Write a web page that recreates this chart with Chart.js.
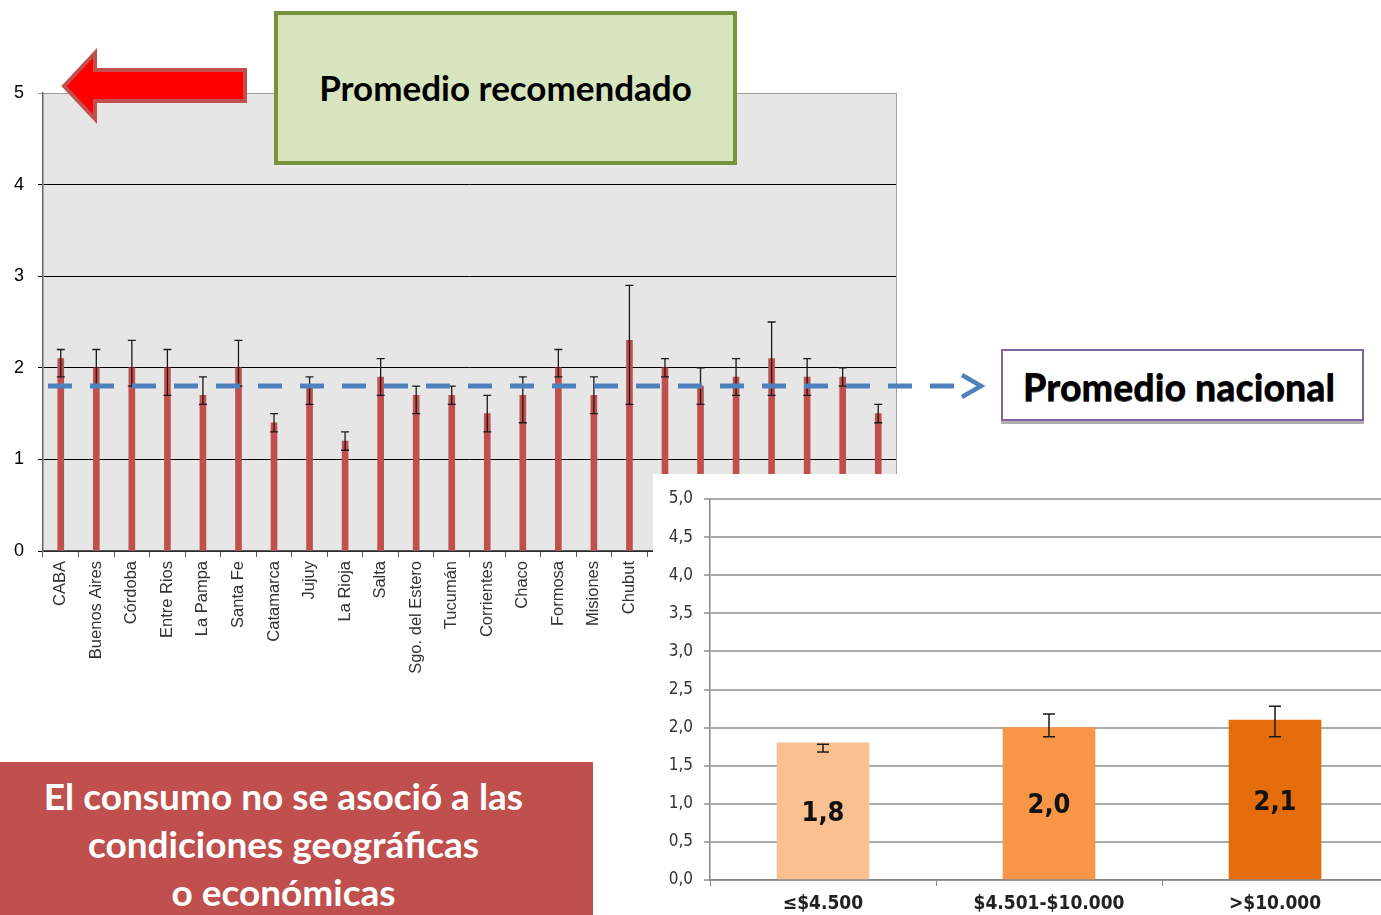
<!DOCTYPE html>
<html lang="es">
<head>
<meta charset="UTF-8">
<title>Consumo por provincia e ingreso</title>
<script src="https://cdn.jsdelivr.net/npm/chart.js"></script>
<style>
    body {
        margin: 0;
        width: 1381px;
        height: 915px;
        overflow: hidden;
        position: relative;
        background: #fff;
        font-family: 'Liberation Sans', Arial, sans-serif;
    }
    #provChart { position: absolute; left: 0; top: 0; }
    #ingresoBox {
        position: absolute; left: 653px; top: 474px;
        width: 728px; height: 441px;
        background: #fff; overflow: hidden;
    }
    #ingresoChart { position: absolute; left: 2px; top: 1px; }
    #flecha { position: absolute; left: 0; top: 0; }
    #recomendado {
        position: absolute; left: 274px; top: 11px;
        width: 455px; height: 146px;
        background: #d7e4bd; border: 4px solid #77933c;
        font-family: Lato, 'Open Sans', sans-serif; font-weight: 700;
        font-size: 35px; text-align: center; line-height: 144px;
        color: #000; white-space: nowrap;
    }
    #nacional {
        position: absolute; left: 1001px; top: 349px;
        height: 68px;
        background: #fff; border: 2px solid #8064a2;
        box-shadow: 0 3px 0 #b0b0b0;
        font-family: Lato, 'Open Sans', sans-serif; font-weight: 900;
        font-size: 37.5px; line-height: 72px; padding-left: 20px;
        box-sizing: content-box; width: 339px;
        color: #000; white-space: nowrap;
        text-shadow: 0 1px 0 #555;
    }
    #conclusion {
        position: absolute; left: 0; top: 762px;
        width: 593px; height: 153px;
        background: #c0504d; color: #fff;
        font-family: Lato, 'Open Sans', sans-serif; font-weight: 700;
        font-size: 37px; line-height: 48px; text-align: center;
        padding-top: 10px; box-sizing: border-box;
        padding-right: 26px; white-space: nowrap;
    }
</style>
</head>
<body>
<canvas id="provChart" width="1000" height="690"></canvas>

<svg id="flecha" width="260" height="140">
    <polygon points="64,86 95,53 95,70 245,70 245,101 95,101 95,119"
             fill="#ff0000" stroke="#c0504d" stroke-width="4" stroke-linejoin="miter"/>
</svg>
<div id="recomendado">Promedio recomendado</div>
<div id="nacional">Promedio nacional</div>

<div id="ingresoBox"><canvas id="ingresoChart" width="733" height="445"></canvas></div>

<div id="conclusion">El consumo no se asoció a las<br>condiciones geográficas<br>o económicas</div>

<script>
    // consumo por provincia (media y barras de error)
    var provincias = ['CABA', 'Buenos Aires', 'Córdoba', 'Entre Rios', 'La Pampa', 'Santa Fe',
        'Catamarca', 'Jujuy', 'La Rioja', 'Salta', 'Sgo. del Estero', 'Tucumán',
        'Corrientes', 'Chaco', 'Formosa', 'Misiones', 'Chubut', 'Neuquén', 'Río Negro',
        'Santa Cruz', 'Tierra del Fuego', 'Mendoza', 'San Juan', 'San Luis'];
    var consumo   = [2.1, 2.0, 2.0, 2.0, 1.7, 2.0, 1.4, 1.8, 1.2, 1.9, 1.7, 1.7, 1.5, 1.7, 2.0, 1.7, 2.3, 2.0, 1.8, 1.9, 2.1, 1.9, 1.9, 1.5];
    var errorBajo = [1.9, 1.8, 1.8, 1.7, 1.6, 1.8, 1.3, 1.6, 1.1, 1.7, 1.5, 1.6, 1.3, 1.4, 1.9, 1.5, 1.6, 1.9, 1.6, 1.7, 1.7, 1.7, 1.8, 1.4];
    var errorAlto = [2.2, 2.2, 2.3, 2.2, 1.9, 2.3, 1.5, 1.9, 1.3, 2.1, 1.8, 1.8, 1.7, 1.9, 2.2, 1.9, 2.9, 2.1, 2.0, 2.1, 2.5, 2.1, 2.0, 1.6];
    var promedioNacional = 1.8;

    // consumo por nivel de ingreso
    var ingresos       = ['≤$4.500', '$4.501-$10.000', '>$10.000'];
    var consumoIngreso = [1.8, 2.0, 2.1];
    var ingresoBajo    = [1.68, 1.88, 1.88];
    var ingresoAlto    = [1.78, 2.18, 2.28];
    var coloresIngreso = ['#fac090', '#f79646', '#e46c0a'];

    var narrow = "'Liberation Sans Narrow', 'DejaVu Sans Condensed', Arial, sans-serif";

    function errorBarsPlugin(low, high, cap, width) {
        return {
            id: 'errorBars',
            afterDatasetsDraw: function(chart) {
                var ctx = chart.ctx;
                var y = chart.scales.y;
                ctx.save();
                ctx.strokeStyle = '#1a1a1a';
                ctx.lineWidth = width;
                chart.getDatasetMeta(0).data.forEach(function(bar, i) {
                    var yl = y.getPixelForValue(low[i]);
                    var yh = y.getPixelForValue(high[i]);
                    ctx.beginPath();
                    ctx.moveTo(bar.x, yl); ctx.lineTo(bar.x, yh);
                    ctx.moveTo(bar.x - cap, yl); ctx.lineTo(bar.x + cap, yl);
                    ctx.moveTo(bar.x - cap, yh); ctx.lineTo(bar.x + cap, yh);
                    ctx.stroke();
                });
                ctx.restore();
            }
        };
    }

    var plotBackground = {
        id: 'plotBackground',
        beforeDraw: function(chart) {
            var a = chart.chartArea, ctx = chart.ctx;
            ctx.save();
            ctx.fillStyle = '#e6e6e6';
            ctx.fillRect(a.left, a.top, a.right - a.left, a.bottom - a.top);
            ctx.strokeStyle = '#a0a0a0';
            ctx.lineWidth = 1;
            ctx.beginPath();
            ctx.moveTo(a.right + 0.5, a.top); ctx.lineTo(a.right + 0.5, a.bottom);
            ctx.stroke();
            ctx.restore();
        }
    };

    // linea discontinua del promedio nacional con punta de flecha
    var lineaNacional = {
        id: 'lineaNacional',
        afterDraw: function(chart) {
            var ctx = chart.ctx;
            var yy = Math.round(chart.scales.y.getPixelForValue(promedioNacional));
            ctx.save();
            ctx.strokeStyle = '#4f81bd';
            ctx.lineWidth = 5;
            ctx.setLineDash([24, 18]);
            ctx.beginPath();
            ctx.moveTo(48, yy); ctx.lineTo(958, yy);
            ctx.stroke();
            ctx.setLineDash([]);
            ctx.lineWidth = 4.5;
            ctx.beginPath();
            ctx.moveTo(962, yy - 11); ctx.lineTo(981, yy); ctx.lineTo(962, yy + 11);
            ctx.stroke();
            ctx.restore();
        }
    };

    new Chart(document.getElementById('provChart'), {
        type: 'bar',
        data: {
            labels: provincias,
            datasets: [{
                data: consumo,
                backgroundColor: '#c0504d',
                barThickness: 6
            }]
        },
        options: {
            responsive: false,
            animation: false,
            layout: { padding: { top: 93, right: 104, left: 0, bottom: 0 } },
            plugins: { legend: { display: false }, tooltip: { enabled: false } },
            scales: {
                x: {
                    afterFit: function(scale) { scale.height = 139; },
                    grid: { drawOnChartArea: false, tickLength: 6, color: '#555' },
                    border: { color: '#555', width: 1.5 },
                    ticks: {
                        minRotation: 90, maxRotation: 90, autoSkip: false, padding: 4,
                        color: '#333', font: { family: "'Liberation Sans', Arial", size: 16.5 }
                    }
                },
                y: {
                    min: 0, max: 5,
                    afterFit: function(scale) { scale.width = 43; },
                    grid: {
                        tickLength: 5,
                        color: function(c) { return c.tick.value === 5 ? '#a0a0a0' : '#000'; }
                    },
                    border: { color: '#666', width: 1.5 },
                    ticks: {
                        stepSize: 1, padding: 14, color: '#000',
                        font: { family: "'Liberation Sans', Arial", size: 18 }
                    }
                }
            }
        },
        plugins: [plotBackground, errorBarsPlugin(errorBajo, errorAlto, 4, 1.3), lineaNacional]
    });

    var etiquetasBarras = {
        id: 'etiquetasBarras',
        afterDatasetsDraw: function(chart) {
            var ctx = chart.ctx;
            ctx.save();
            ctx.fillStyle = '#111';
            ctx.font = 'bold 27px ' + narrow;
            ctx.textAlign = 'center';
            ctx.textBaseline = 'middle';
            chart.getDatasetMeta(0).data.forEach(function(bar, i) {
                var label = consumoIngreso[i].toFixed(1).replace('.', ',');
                ctx.fillText(label, bar.x, (bar.y + bar.base) / 2 + 3);
            });
            ctx.restore();
        }
    };

    new Chart(document.getElementById('ingresoChart'), {
        type: 'bar',
        data: {
            labels: ingresos,
            datasets: [{
                data: consumoIngreso,
                backgroundColor: coloresIngreso,
                barThickness: 92
            }]
        },
        options: {
            responsive: false,
            animation: false,
            layout: { padding: { top: 24, right: 0, left: 0, bottom: 0 } },
            plugins: { legend: { display: false }, tooltip: { enabled: false } },
            scales: {
                x: {
                    afterFit: function(scale) { scale.height = 40; },
                    grid: { drawOnChartArea: false, tickLength: 6, color: '#888' },
                    border: { color: '#888', width: 1.5 },
                    ticks: {
                        padding: 7, color: '#222',
                        font: { family: narrow, size: 19, weight: 'bold' }
                    }
                },
                y: {
                    min: 0, max: 5,
                    afterFit: function(scale) { scale.width = 55; },
                    grid: { tickLength: 6, color: '#ababab', lineWidth: 2 },
                    border: { color: '#888', width: 1.5 },
                    ticks: {
                        stepSize: 0.5, padding: 11, color: '#333',
                        font: { family: narrow, size: 17 },
                        callback: function(v) { return v.toFixed(1).replace('.', ','); }
                    }
                }
            }
        },
        plugins: [errorBarsPlugin(ingresoBajo, ingresoAlto, 6, 1.5), etiquetasBarras]
    });
</script>
</body>
</html>
